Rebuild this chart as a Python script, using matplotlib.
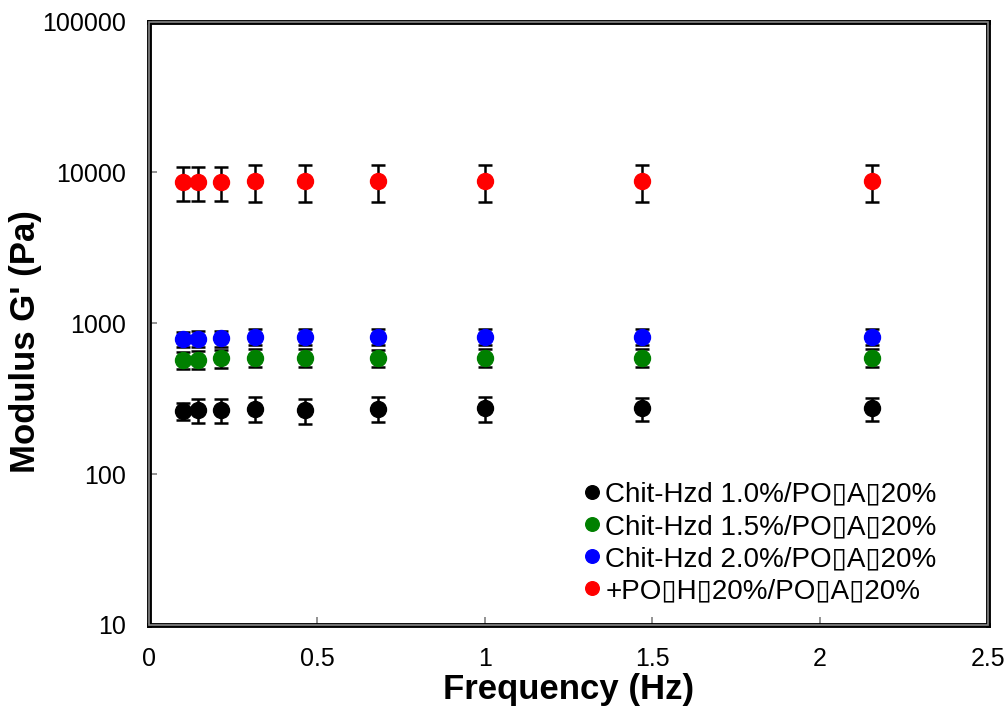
import matplotlib
matplotlib.use("Agg")
import matplotlib.pyplot as plt
from matplotlib.patches import Rectangle
from matplotlib.ticker import FixedLocator, NullLocator

plt.rcParams['font.family'] = ['Liberation Sans', 'DejaVu Sans']

# frequency sweep points (Hz)
freq = [0.1, 0.147, 0.215, 0.316, 0.464, 0.681, 1.0, 1.468, 2.154]

# storage modulus G' (Pa) and error
g_10 = [262, 265, 265, 272, 265, 272, 273, 273, 273]
e_10 = [35, 48, 48, 52, 50, 50, 50, 48, 48]
g_15 = [570, 575, 585, 590, 590, 590, 592, 592, 592]
e_15 = [75, 80, 80, 80, 80, 78, 78, 78, 78]
g_20 = [787, 790, 795, 815, 815, 815, 815, 815, 815]
e_20 = [90, 95, 95, 95, 95, 95, 95, 95, 95]
g_red = [8700, 8700, 8700, 8750, 8750, 8750, 8750, 8750, 8750]
e_red = [2200, 2200, 2200, 2400, 2400, 2400, 2400, 2400, 2400]

box = "\u25af"
labels = ["Chit-Hzd 1.0%/PO" + box + "A" + box + "20%",
          "Chit-Hzd 1.5%/PO" + box + "A" + box + "20%",
          "Chit-Hzd 2.0%/PO" + box + "A" + box + "20%",
          "+PO" + box + "H" + box + "20%/PO" + box + "A" + box + "20%"]
colors = ["black", "green", "blue", "red"]

fig = plt.figure(figsize=(10.08, 7.24), dpi=100)
ax = fig.add_axes([0.148, 0.137, 0.832, 0.833])

series = [(g_10, e_10), (g_15, e_15), (g_20, e_20), (g_red, e_red)]
for (g, e), c, lab in zip(series, colors, labels):
    ax.errorbar(freq, g, yerr=e, fmt='none', ecolor='black', elinewidth=1.8,
                capsize=5, capthick=1.8, zorder=2)
    ax.plot(freq, g, 'o', color=c, markersize=11.5, label=lab, zorder=3)

ax.set_yscale('log')
ax.set_ylim(10, 100000)
ax.set_xlim(0, 2.5)
ax.yaxis.set_major_locator(FixedLocator([10, 100, 1000, 10000, 100000]))
ax.yaxis.set_minor_locator(NullLocator())
ax.set_yticklabels(["10", "100", "1000", "10000", "100000"])
ax.set_xticks([0, 0.5, 1, 1.5, 2, 2.5])
ax.set_xticklabels(["0", "0.5", "1", "1.5", "2", "2.5"])

ax.tick_params(axis='both', direction='in', length=6, width=1.2, color='gray',
               labelsize=18)
ax.tick_params(axis='y', pad=17)
ax.tick_params(axis='x', pad=16)

for s in ax.spines.values():
    s.set_linewidth(3.5)
    s.set_color('black')
ax.add_patch(Rectangle((0, 0), 1, 1, transform=ax.transAxes, fill=False,
                       edgecolor='#888888', linewidth=1.2, zorder=5, clip_on=False))

ax.set_xlabel("Frequency (Hz)", fontsize=25, fontweight='bold')
ax.set_ylabel("Modulus G' (Pa)", fontsize=25, fontweight='bold')
ax.xaxis.set_label_coords(0.5, -0.08)
ax.yaxis.set_label_coords(-0.128, 0.47)

ax.legend(loc='upper left', frameon=False, fontsize=20, handletextpad=0.12,
          handlelength=0.75, labelspacing=0.22, borderpad=0, borderaxespad=0,
          markerscale=0.85, bbox_to_anchor=(0.515, 0.237))

fig.savefig("out.png", dpi=100)
